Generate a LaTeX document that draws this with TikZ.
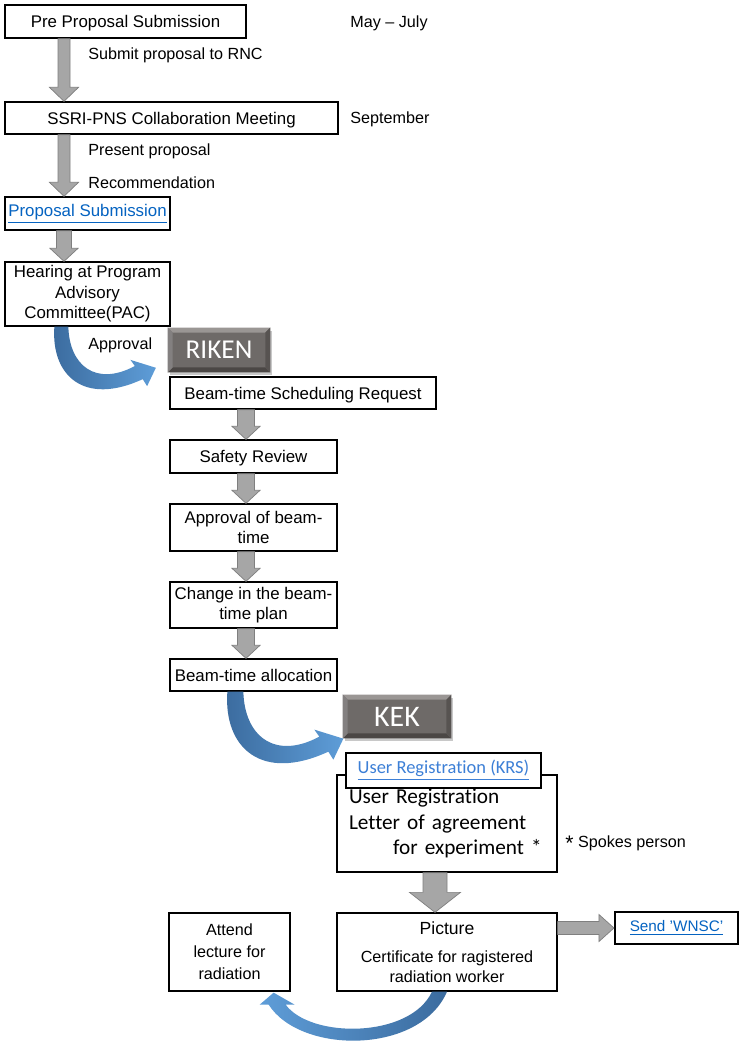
\documentclass[tikz,border=0pt]{standalone}
\usepackage{fontspec}
\setmainfont{Liberation Sans}
\newfontfamily\calibri[Ligatures=NoCommon]{Carlito}
\usetikzlibrary{calc}
\definecolor{FlowGray}{HTML}{A6A6A6}
\definecolor{FlowEdge}{HTML}{7F7F7F}
\definecolor{FlowLink}{HTML}{0563C1}
\definecolor{FlowLinkLight}{HTML}{3C7FD6}
\definecolor{BendDark}{HTML}{3B6B9E}
\definecolor{BendLight}{HTML}{5E9DD8}
\definecolor{BtnFace}{HTML}{6E6A68}
\definecolor{BtnTop}{HTML}{9A9694}
\definecolor{BtnLow}{HTML}{4B4745}
\definecolor{BtnLeft}{HTML}{838080}
\definecolor{BtnRight}{HTML}{575351}
\definecolor{BtnShadow}{HTML}{C8C8C8}

% gray block arrow: column, from node, to node, shaft half width, head half width, head length
\newcommand{\grayarrow}[6]{%
  \path (#2.south -| #1) coordinate (ga) (#3.north -| #1) coordinate (gb);
  \filldraw[garrow] ($(ga)+(-#4,0)$) -- ($(gb)+(-#4,-#6)$) -- ($(gb)+(-#5,-#6)$) -- (gb)
    -- ($(gb)+(#5,-#6)$) -- ($(gb)+(#4,-#6)$) -- ($(ga)+(#4,0)$) -- cycle;}
% bevel edges of a button node
\newcommand{\bevel}[1]{%
  \fill[BtnTop] (#1.north west) -- (#1.north east) -- ($(#1.north east)+(-5,5)$) -- ($(#1.north west)+(5,5)$) -- cycle;
  \fill[BtnLow] (#1.south west) -- (#1.south east) -- ($(#1.south east)+(-5,-5)$) -- ($(#1.south west)+(5,-5)$) -- cycle;
  \fill[BtnLeft] (#1.north west) -- (#1.south west) -- ($(#1.south west)+(5,-5)$) -- ($(#1.north west)+(5,5)$) -- cycle;
  \fill[BtnRight] (#1.north east) -- (#1.south east) -- ($(#1.south east)+(-5,-5)$) -- ($(#1.north east)+(-5,5)$) -- cycle;}

\begin{document}
\begin{tikzpicture}[x=0.02cm,y=-0.02cm,
  box/.style={draw,line width=.75pt,fill=white,inner sep=0pt,align=center,font=\fontsize{9.6}{11.6}\selectfont},
  oneline/.style={box,text depth=0pt},
  note/.style={anchor=west,inner sep=0pt,font=\fontsize{9.2}{11}\selectfont},
  garrow/.style={fill=FlowGray,draw=FlowEdge,line width=.4pt},
  btn/.style={fill=BtnFace,text=white,inner sep=0pt},
  bend/.pic={\shade[left color=BendDark,right color=BendLight] (0,0) .. controls (-4,56) and (34,91) .. (101,60)
    -- (106,68) -- (116,47) -- (87,38) -- (92,45) .. controls (47,69) and (17,44) .. (16,0) -- cycle;}]
\path[use as bounding box] (0,0) rectangle (745,1047);
\fill[white] (0,0) rectangle (745,1047);

% columns of the gray arrows
\coordinate (colL) at (64,0);
\coordinate (colM) at (246,0);
\coordinate (colR) at (435,0);

% proposal part
\node[oneline,minimum width=4.82cm,minimum height=.66cm] (pre) at (125.5,21.5) {Pre Proposal Submission};
\node[note] (may) at (350,23) {May – July};
\node[note] (submit) at (88,55) {Submit proposal to RNC};
\node[oneline,minimum width=6.66cm,minimum height=.64cm] (ssri) at (171.5,118) {SSRI-PNS Collaboration Meeting};
\node[note] (sept) at (350,119) {September};
\node[note] (present) at (88,151) {Present proposal};
\node[note] (recom) at (88,183) {Recommendation};
\node[box,minimum width=3.30cm,minimum height=.66cm,text=FlowLink] (propsub) at (87.5,213.5) {\underline{Proposal Submission}};
\node[box,minimum width=3.30cm,minimum height=1.28cm] (hear) at (87.5,294) {Hearing at Program\\Advisory\\Committee(PAC)};
\node[note] (approv) at (88,345) {Approval};

% RIKEN part
\fill[BtnShadow] (170,331) rectangle (272,375);
\node[btn,minimum width=2.04cm,minimum height=.88cm] (riken) at (219,350) {};
\bevel{riken}
\node[text=white,font=\calibri\fontsize{15.5}{18}\selectfont] at (riken) {RIKEN};
\node[oneline,minimum width=5.32cm,minimum height=.64cm] (sched) at (303,393) {Beam-time Scheduling Request};
\node[oneline,minimum width=3.34cm,minimum height=.66cm] (safety) at (253.5,456.5) {Safety Review};
\node[box,minimum width=3.34cm,minimum height=.94cm] (apprbeam) at (253.5,527.5) {Approval of beam-\\time};
\node[box,minimum width=3.34cm,minimum height=.92cm] (change) at (253.5,605) {Change in the beam-\\time plan};
\node[oneline,minimum width=3.34cm,minimum height=.64cm] (alloc) at (253.5,675) {Beam-time allocation};

% KEK part
\fill[BtnShadow] (345,698) rectangle (453,741);
\node[btn,minimum width=2.16cm,minimum height=.86cm] (kek) at (397,716.5) {};
\bevel{kek}
\node[text=white,font=\calibri\fontsize{17}{20}\selectfont] at (kek) {KEK};
\node[box,minimum width=4.40cm,minimum height=1.94cm,align=left,text width=3.92cm,font=\calibri\fontsize{12.1}{14.7}\selectfont] (reg) at (447,823.5)
  {User Registration\\Letter of agreement\\\hspace*{.88cm}for experiment *};
\node[box,minimum width=3.90cm,minimum height=.70cm,text=FlowLinkLight,font=\calibri\fontsize{10.5}{12}\selectfont] (krs) at (443.5,770.5) {\underline{User Registration (KRS)}};
\node[note] (spokes) at (565,843) {\raisebox{-.35ex}{\large *} Spokes person};
\node[box,minimum width=4.40cm,minimum height=1.56cm,font=\fontsize{9.2}{11.3}\selectfont] (picbox) at (447,952)
  {{\fontsize{10}{12}\selectfont Picture}\\[5pt]Certificate for ragistered\\radiation worker};
\node[box,minimum width=2.42cm,minimum height=1.56cm,font=\fontsize{9.2}{12.5}\selectfont] (attend) at (229.5,952) {Attend\\lecture for\\radiation};
\node[box,line width=1.2pt,minimum width=2.46cm,minimum height=.64cm,text=FlowLink,font=\fontsize{8.7}{10}\selectfont] (send) at (676.5,928) {\underline{Send 'WNSC'}};

% gray arrows
\grayarrow{colL}{pre}{ssri}{6}{14.5}{14}
\grayarrow{colL}{ssri}{propsub}{6}{14.5}{14}
\grayarrow{colL}{propsub}{hear}{7.5}{14}{13}
\foreach \a/\b in {sched/safety,safety/apprbeam,apprbeam/change,change/alloc}
  \grayarrow{colM}{\a}{\b}{8.5}{14}{13};
\grayarrow{colR}{reg}{picbox}{12}{25.5}{20}
\path (picbox.east |- send.west) coordinate (ha) (send.west) coordinate (hb);
\filldraw[garrow] ($(ha)+(0,-6.5)$) -- ($(hb)+(-15,-6.5)$) -- ($(hb)+(-15,-13.5)$) -- (hb)
  -- ($(hb)+(-15,13.5)$) -- ($(hb)+(-15,6.5)$) -- ($(ha)+(0,6.5)$) -- cycle;

% blue bent arrows
\pic[scale=.875] at ($(hear.south west)+(50,0)$) {bend};
\pic at ($(alloc.south west)+(58,0)$) {bend};
\shade[left color=BendLight,right color=BendDark] (picbox.south)
  .. controls ($(picbox.south)+(-27,63)$) and ($(attend.south east)+(10,63)$) .. ($(attend.south east)+(-22,13)$)
  -- ($(attend.south east)+(-31,13)$) -- ($(attend.south east)+(-17,1)$) -- ($(attend.south east)+(4,13)$)
  -- ($(attend.south east)+(-5,13)$)
  .. controls ($(attend.south east)+(20,47)$) and ($(picbox.south)+(-37,47)$) .. ($(picbox.south)+(-15,0)$) -- cycle;
\end{tikzpicture}
\end{document}
